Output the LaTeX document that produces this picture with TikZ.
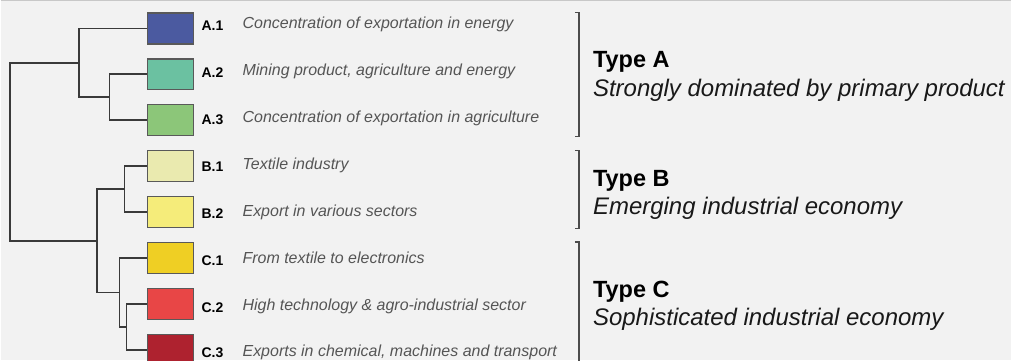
\documentclass[tikz,border=0pt]{standalone}
\usepackage{fontspec}
\setmainfont{Liberation Sans}
\usepackage{xcolor}
\usepackage{tikz}
\usetikzlibrary{positioning,calc}
\definecolor{pagebg}{HTML}{F2F2F2}
\definecolor{ruleline}{HTML}{C8C8C8}
\definecolor{treegray}{HTML}{3A3A3A}
\definecolor{descgray}{HTML}{555555}
\definecolor{colAone}{HTML}{4B5AA0}
\definecolor{colAtwo}{HTML}{6BC1A1}
\definecolor{colAthree}{HTML}{8CC679}
\definecolor{colBone}{HTML}{EAEAAF}
\definecolor{colBtwo}{HTML}{F5EC7A}
\definecolor{colCone}{HTML}{EFCF24}
\definecolor{colCtwo}{HTML}{E84646}
\definecolor{colCthree}{HTML}{AE222F}
\tikzset{
  catbox/.style={draw=black!65, line width=1.2pt, minimum width=46pt, minimum height=31pt, inner sep=0pt},
  codelabel/.style={anchor=base west, inner sep=0pt, font=\fontsize{14}{16}\selectfont\bfseries},
  desclabel/.style={anchor=base west, inner sep=0pt, text=descgray, font=\fontsize{16}{19}\selectfont\itshape},
  typetitle/.style={anchor=base west, inner sep=0pt, font=\fontsize{23.5}{27}\selectfont\bfseries},
  typedesc/.style={anchor=base west, inner sep=0pt, text=black!90, font=\fontsize{24}{28}\selectfont\itshape},
  treeline/.style={draw=treegray, line width=1.8pt},
  bracketline/.style={draw=black!70, line width=1.3pt},
}

\begin{document}
\begin{tikzpicture}[x=1pt, y=-1pt]
		% Page background and top rule
		\fill[pagebg] (0,0) rectangle (1012,361);
		\draw[ruleline, line width=1.5pt] (0,0.75) -- (1012,0.75);
		\useasboundingbox (0,0) rectangle (1012,361);

		% Category boxes
		\node[catbox, fill=colAone] (boxA1) at (170,28.5) {};
		\node[catbox, fill=colAtwo] (boxA2) at (170,74.5) {};
		\node[catbox, fill=colAthree] (boxA3) at (170,120.5) {};
		\node[catbox, fill=colBone] (boxB1) at (170,166.5) {};
		\node[catbox, fill=colBtwo] (boxB2) at (170,212.5) {};
		\node[catbox, fill=colCone] (boxC1) at (170,258.5) {};
		\node[catbox, fill=colCtwo] (boxC2) at (170,304.5) {};
		\node[catbox, fill=colCthree] (boxC3) at (170,350.5) {};

		% Codes
		\node[codelabel] (codeA1) at (201,31) {A.1};
		\node[codelabel] (codeA2) at (201,78) {A.2};
		\node[codelabel] (codeA3) at (201,125) {A.3};
		\node[codelabel] (codeB1) at (201,172) {B.1};
		\node[codelabel] (codeB2) at (201,219) {B.2};
		\node[codelabel] (codeC1) at (201,265.5) {C.1};
		\node[codelabel] (codeC2) at (201,312.5) {C.2};
		\node[codelabel] (codeC3) at (201,358.5) {C.3};

		% Descriptions
		\node[desclabel] (textA1) at (242,28.5) {Concentration of exportation in energy};
		\node[desclabel] (textA2) at (242,75.5) {Mining product, agriculture and energy};
		\node[desclabel] (textA3) at (242,122.5) {Concentration of exportation in agriculture};
		\node[desclabel] (textB1) at (242,170) {Textile industry};
		\node[desclabel] (textB2) at (242,217) {Export in various sectors};
		\node[desclabel] (textC1) at (242,264) {From textile to electronics};
		\node[desclabel] (textC2) at (242,311) {High technology \& agro-industrial sector};
		\node[desclabel] (textC3) at (242,357.5) {Exports in chemical, machines and transport};

		% Dendrogram merge points
		\coordinate (mA23) at (109,97.5);
		\coordinate (mA) at (78,63);
		\coordinate (mB) at (124,189.5);
		\coordinate (mC23) at (126,327.5);
		\coordinate (mC) at (119,293);
		\coordinate (mBC) at (96,241);
		\coordinate (root) at (9,152);

		% Dendrogram branches
		\draw[treeline] (boxA2.west) -| (mA23) |- (boxA3.west);
		\draw[treeline] (boxA1.west) -| (mA) |- (mA23);
		\draw[treeline] (boxB1.west) -| (mB) |- (boxB2.west);
		\draw[treeline] (boxC2.west) -| (mC23) |- (boxC3.west);
		\draw[treeline] (boxC1.west) -| (mC) |- (mC23);
		\draw[treeline] (mB) -| (mBC) |- (mC);
		\draw[treeline] (mA) -| (root) |- (mBC);

		% Group brackets
		\coordinate (brk) at (579,0);
		\draw[bracketline] ([xshift=-4pt]boxA1.north -| brk) -- (boxA1.north -| brk) -- (boxA3.south -| brk) -- ([xshift=-4pt]boxA3.south -| brk);
		\draw[bracketline] ([xshift=-4pt]boxB1.north -| brk) -- (boxB1.north -| brk) -- (boxB2.south -| brk) -- ([xshift=-4pt]boxB2.south -| brk);
		\draw[bracketline] ([xshift=-4pt]boxC1.north -| brk) -- (boxC1.north -| brk) -- (boxC3.south -| brk) -- ([xshift=-4pt]boxC3.south -| brk);

		% Group titles
		\node[typetitle] (typeA) at (593,68) {Type A};
		\node[typedesc] (descA) at (593,97) {Strongly dominated by primary product};
		\node[typetitle] (typeB) at (593,187) {Type B};
		\node[typedesc] (descB) at (593,215) {Emerging industrial economy};
		\node[typetitle] (typeC) at (593,298) {Type C};
		\node[typedesc] (descC) at (593,326) {Sophisticated industrial economy};
	\end{tikzpicture}
\end{document}
